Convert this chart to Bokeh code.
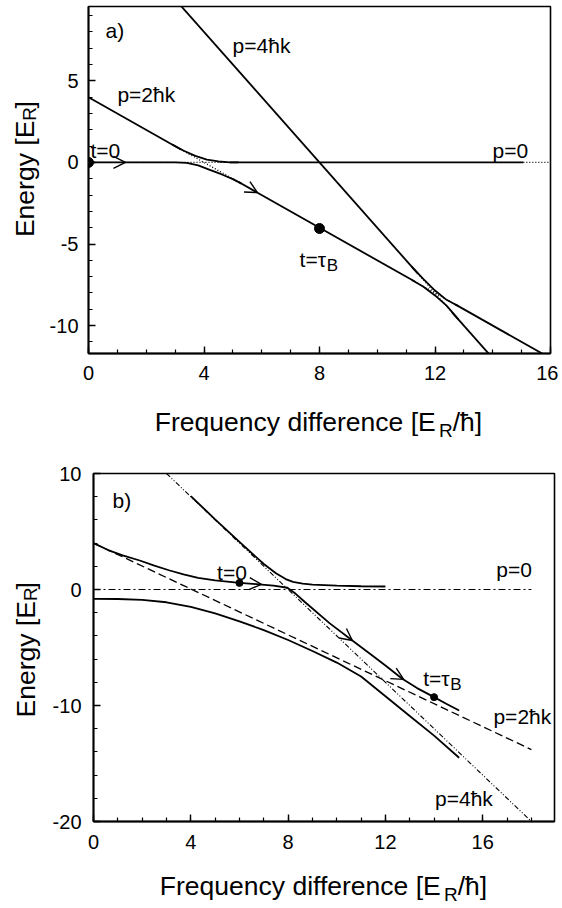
from bokeh.plotting import figure
from bokeh.layouts import column, row
from bokeh.models import (Range1d, SingleIntervalTicker, Label, Arrow, OpenHead,
                          PrintfTickFormatter)
from bokeh.embed import file_html
from bokeh.resources import INLINE

FONT = "Liberation Sans"

# ======================= panel a) data =======================
a_xrange = (0, 16)
a_yrange = (-11.71, 9.56)
a_xtick_interval = 4
a_ytick_interval = 5

# solid pieces of the bare momentum lines
a_solid_x = [[4.9, 15.06], [0, 3.2], [5.2, 11.3], [12.7, 16], [3, 11.4], [12.6, 14]]
a_solid_E = [[0, 0], [4, 0.8], [-1.2, -7.3], [-8.7, -12], [10, -6.8], [-9.2, -12]]
# dotted pieces of the bare momentum lines
a_dot_x = [[0, 4.9], [15.06, 16], [3.2, 5.2], [11.3, 12.7], [11.4, 12.6]]
a_dot_E = [[0, 0], [0, 0], [0.8, -1.2], [-7.3, -8.7], [-6.8, -9.2]]
# adiabatic curves at the avoided crossings
a_low4_x = [0, 3.0, 3.4, 3.8, 4.2, 4.6, 5.0, 5.3]
a_low4_E = [0, 0, -0.03, -0.18, -0.45, -0.72, -1.02, -1.3]
a_up4_x = [2.9, 3.3, 3.7, 4.1, 4.5, 4.9, 5.2]
a_up4_E = [1.1, 0.72, 0.4, 0.18, 0.06, 0.01, 0]
a_low12_x = [11.2, 11.6, 12.0, 12.4, 12.8]
a_low12_E = [-7.2, -7.62, -8.15, -8.78, -9.6]
a_up12_x = [11.2, 11.6, 12.0, 12.4, 12.8]
a_up12_E = [-6.4, -7.15, -7.85, -8.42, -8.8]
# points t=0 and t=tau_B
a_pts_x = [0, 8]
a_pts_E = [0, -4.05]
# arrows (tip positions and direction in data units)
a_arrow_tip_x = [1.28, 5.85]
a_arrow_tip_E = [0, -1.85]
a_arrow_dir_x = [1, 1]
a_arrow_dir_E = [0, -1]
# texts
a_text = ["a)", "p=4ħk", "p=2ħk", "t=0", "p=0"]
a_text_x = [0.59, 4.99, 1.0, 0.07, 13.99]
a_text_E = [7.73, 6.81, 3.75, 0.32, 0.32]
a_tau_x, a_tau_E = 7.31, -6.31

# ======================= panel b) data =======================
b_xrange = (0, 18.95)
b_yrange = (-20, 10)
b_xtick_interval = 4
b_ytick_interval = 10

b_p0_x = [0, 18]
b_p0_E = [0, 0]
b_p2_x = [0, 18]
b_p2_E = [4, -13.8]
b_p4_x = [3, 18]
b_p4_E = [10, -20]

b_up_x = [4.0, 5, 6, 7, 7.5, 7.9, 8.2, 8.6, 9.0, 10, 11, 12.0]
b_up_E = [8.05, 6.05, 4.1, 2.2, 1.4, 0.9, 0.65, 0.5, 0.42, 0.33, 0.28, 0.26]
b_mid_x = [0, 0.6, 1.2, 1.9, 2.5, 3.1, 3.7, 4.3, 5, 6, 6.8, 7.4, 7.97, 8.3, 8.7,
           9.7, 10.64, 11.5, 12.0, 12.69, 13.3, 14.0, 14.5, 15.03]
b_mid_E = [4, 3.4, 2.95, 2.5, 2.05, 1.66, 1.3, 1.0, 0.78, 0.57, 0.45, 0.33, 0.15, -0.35,
           -1.1, -2.9, -4.4, -5.75, -6.55, -7.7, -8.5, -9.28, -9.85, -10.43]
b_low_x = [0, 1, 2, 3, 4, 5, 6, 7, 8, 9, 10, 11, 12, 13, 14, 15.03]
b_low_E = [-0.8, -0.82, -0.9, -1.1, -1.5, -2.05, -2.75, -3.5, -4.35, -5.3, -6.3, -7.5,
           -9.2, -10.9, -12.6, -14.5]

b_pts_x = [6.0, 14.0]
b_pts_E = [0.57, -9.28]
b_arrow_tip_x = [6.9, 10.64, 12.75]
b_arrow_tip_E = [0.44, -4.4, -7.75]
b_arrow_dir_x = [1, 1, 1]
b_arrow_dir_E = [-0.15, -1.6, -1.2]

b_text = ["b)", "t=0", "p=0", "p=2ħk", "p=4ħk"]
b_text_x = [0.78, 5.08, 16.56, 16.44, 14.04]
b_text_E = [7.16, 0.95, 1.2, -11.47, -18.53]
b_tau_x, b_tau_E = 13.55, -8.19

# axis titles
x_title_main, x_title_sub, x_title_tail = "Frequency difference [E", "R", "/ħ]"
y_title_main, y_title_sub, y_title_tail = "Energy [E", "R", "]"

# ======================= helpers =======================
TXT = 21       # in-plot text size (px)
LAB = 26.5     # axis title size (px)
SUB = 19       # subscript size of the axis titles
FIX = 0.3      # baseline correction (fraction of font size)


def make_fig(w, h, bl, br, bt, bb, xr, yr, xint, yint, ymin_minor, sx_off, sy_off):
    p = figure(width=w, height=h, x_range=Range1d(*xr), y_range=Range1d(*yr),
               output_backend="svg", toolbar_location=None,
               min_border_left=bl, min_border_right=br, min_border_top=bt,
               min_border_bottom=bb)
    p.xgrid.visible = False
    p.ygrid.visible = False
    p.outline_line_color = "black"
    p.outline_line_width = 1.6
    p.xaxis.ticker = SingleIntervalTicker(interval=xint, num_minor_ticks=4)
    p.yaxis.ticker = SingleIntervalTicker(interval=yint, num_minor_ticks=ymin_minor)
    for ax in (p.xaxis[0], p.yaxis[0]):
        ax.formatter = PrintfTickFormatter(format="%d")
        ax.axis_line_width = 1.8
        ax.axis_line_color = "black"
        ax.major_tick_in = 7
        ax.major_tick_out = 0
        ax.minor_tick_in = 4
        ax.minor_tick_out = 0
        ax.major_tick_line_color = "black"
        ax.minor_tick_line_color = "black"
        ax.major_tick_line_width = 1.4
        ax.minor_tick_line_width = 1.2
        ax.major_label_text_font = FONT
        ax.major_label_text_font_size = "20px"
        ax.major_label_text_color = "black"
    p.xaxis.major_label_standoff = sx_off
    p.yaxis.major_label_standoff = sy_off
    return p


def text_fig(w, h):
    p = figure(width=w, height=h, x_range=Range1d(0, w), y_range=Range1d(0, h),
               output_backend="svg", toolbar_location=None, x_axis_type=None,
               y_axis_type=None, min_border=0)
    p.xgrid.visible = False
    p.ygrid.visible = False
    p.outline_line_color = None
    return p


def add_label(p, x, y, text, size, xo=0, yo=0, align="left", angle=0.0):
    if angle:
        xo -= FIX * size
    else:
        yo += FIX * size
    p.add_layout(Label(x=x, y=y, text=text, x_offset=xo, y_offset=yo,
                       text_font=FONT, text_font_size=f"{size}px", text_color="black",
                       text_align=align, text_baseline="alphabetic", angle=angle))


def x_title(p, cx, base):
    F = LAB
    w_main, w_R, w_tail = 10.722 * F, 0.722 * SUB, 1.112 * F
    left = cx - (w_main + w_R + w_tail) / 2
    add_label(p, left, base, x_title_main, F)
    add_label(p, left + w_main, base - 0.25 * F, x_title_sub, SUB)
    add_label(p, left + w_main + w_R, base, x_title_tail, F)


def y_title(p, base_x, cy):
    F = LAB
    w_main, w_R, w_tail = 4.391 * F, 0.722 * SUB, 0.278 * F
    total = w_main + w_R + w_tail
    anchor = cy - total / 2 + w_main          # upward positive
    ang = 1.5707963
    add_label(p, base_x, anchor, y_title_main, F, align="right", angle=ang)
    add_label(p, base_x + 3, anchor, y_title_sub, SUB, align="left", angle=ang)
    add_label(p, base_x, anchor + w_R, y_title_tail, F, align="left", angle=ang)


def add_arrows(p, tx, ty, dx, dy):
    for x, y, ux, uy in zip(tx, ty, dx, dy):
        k = 0.05
        p.add_layout(Arrow(end=OpenHead(size=12, line_width=1.4, line_color="black"),
                           x_start=x - k * ux, y_start=y - k * uy, x_end=x, y_end=y,
                           line_alpha=0.0))


def add_tau(p, x, y):
    add_label(p, x, y, "t=τ", TXT)
    add_label(p, x, y, "B", 17, xo=1.29 * TXT, yo=-5)


LW = 1.8

# ======================= panel a =======================
pa = make_fig(516, 387, 46, 8, 6, 34, a_xrange, a_yrange,
              a_xtick_interval, a_ytick_interval, 5, 12, 10)
pa.multi_line(a_solid_x, a_solid_E, line_color="black", line_width=LW)
pa.multi_line(a_dot_x, a_dot_E, line_color="black", line_width=1.3, line_dash="1 2")
for xs, es in ((a_low4_x, a_low4_E), (a_up4_x, a_up4_E),
               (a_low12_x, a_low12_E), (a_up12_x, a_up12_E)):
    pa.line(xs, es, line_color="black", line_width=LW)
pa.scatter(a_pts_x, a_pts_E, size=10, color="black")
add_arrows(pa, a_arrow_tip_x, a_arrow_tip_E, a_arrow_dir_x, a_arrow_dir_E)
for t, x, y in zip(a_text, a_text_x, a_text_E):
    add_label(pa, x, y, t, TXT)
add_tau(pa, a_tau_x, a_tau_E)

ya = text_fig(42, 387)
y_title(ya, 32, 387 - 175)
xa = text_fig(558, 58)
x_title(xa, 318, 58 - 42)

# ======================= panel b =======================
pb = make_fig(516, 410, 51, 4, 28, 34, b_xrange, b_yrange,
              b_xtick_interval, b_ytick_interval, 5, 13, 12)
pb.line(b_p0_x, b_p0_E, line_color="black", line_width=1.2, line_dash="7 3 2 3")
pb.line(b_p2_x, b_p2_E, line_color="black", line_width=1.3, line_dash="8 4")
pb.line(b_p4_x, b_p4_E, line_color="black", line_width=1.1, line_dash="5 2 1 2 1 2")
for xs, es in ((b_up_x, b_up_E), (b_mid_x, b_mid_E), (b_low_x, b_low_E)):
    pb.line(xs, es, line_color="black", line_width=LW)
pb.scatter(b_pts_x, b_pts_E, size=7, color="black")
add_arrows(pb, b_arrow_tip_x, b_arrow_tip_E, b_arrow_dir_x, b_arrow_dir_E)
for t, x, y in zip(b_text, b_text_x, b_text_E):
    add_label(pb, x, y, t, TXT)
add_tau(pb, b_tau_x, b_tau_E)

yb = text_fig(42, 410)
y_title(yb, 33, 855 - 643)
xb = text_fig(558, 51)
x_title(xb, 323, 51 - 38)

layout = column(row(ya, pa), xa, row(yb, pb), xb)
open("out.html", "w").write(file_html(layout, INLINE))
